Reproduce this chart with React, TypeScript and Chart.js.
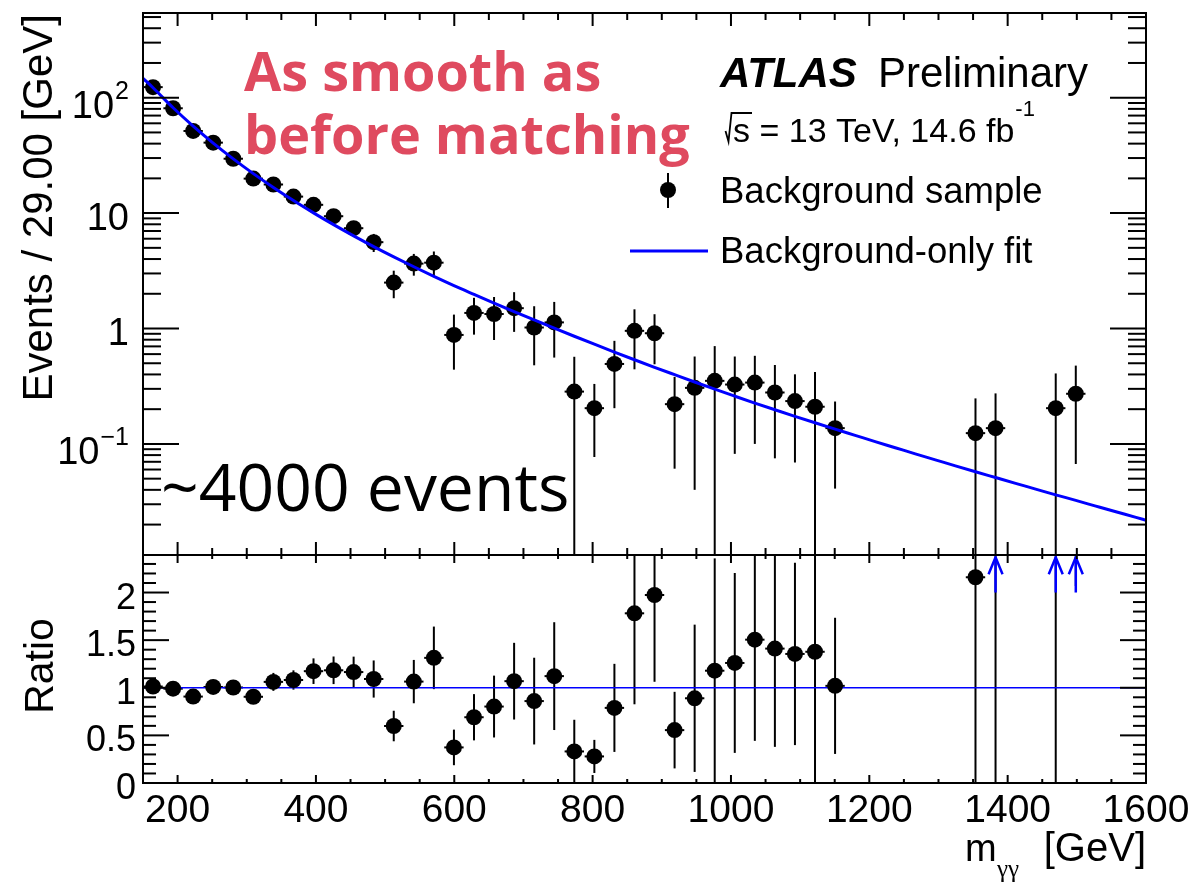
import React, { useEffect, useRef } from "react";
import { Chart, registerables } from "chart.js";

Chart.register(...registerables);

// Diphoton invariant-mass bins (GeV), 29 GeV wide from 150 to 1600
const massBinCenters = [
  164.5, 193.5, 222.5, 251.5, 280.5, 309.5, 338.5, 367.5, 396.5, 425.5,
  454.5, 483.5, 512.5, 541.5, 570.5, 599.5, 628.5, 657.5, 686.5, 715.5,
  744.5, 773.5, 802.5, 831.5, 860.5, 889.5, 918.5, 947.5, 976.5, 1005.5,
  1034.5, 1063.5, 1092.5, 1121.5, 1150.5, 1179.5, 1208.5, 1237.5, 1266.5, 1295.5,
  1324.5, 1353.5, 1382.5, 1411.5, 1440.5, 1469.5, 1498.5, 1527.5, 1556.5, 1585.5,
];

// Background sample: events per bin (null = empty bin)
const eventsPerBin = [
  123.5, 81, 51.5, 40.8, 29.6, 19.9, 17.7, 13.9, 11.8, 9.4,
  7.4, 5.6, 2.5, 3.65, 3.72, 0.88, 1.365, 1.335, 1.5, 1.02,
  1.13, 0.284, 0.204, 0.493, 0.955, 0.91, 0.221, 0.306, 0.352, 0.327,
  0.34, 0.279, 0.235, 0.21, 0.137, null, null, null, null, null,
  null, 0.124, 0.137, null, null, 0.204, 0.272, null, null, null,
];

// Statistical uncertainty on each bin
const eventErrors = [
  4.0, 3.2, 2.6, 2.2, 1.8, 1.45, 1.57, 1.3, 1.35, 1.15,
  1.03, 1.0, 0.67, 0.78, 0.93, 0.44, 0.48, 0.54, 0.565, 0.54,
  0.57, 0.285, 0.127, 0.289, 0.512, 0.42, 0.16, 0.266, 0.352, 0.245,
  0.24, 0.204, 0.166, 0.21, 0.096, null, null, null, null, null,
  null, 0.124, 0.137, null, null, 0.204, 0.205, null, null, null,
];

// Background-only fit evaluated at the bin centres
const fitAtBin = [
  121.9, 81.8, 56.75, 40.46, 29.51, 21.98, 16.67, 12.85, 10.05, 7.943,
  6.353, 5.129, 4.178, 3.428, 2.831, 2.355, 1.977, 1.663, 1.403, 1.186,
  1.007, 0.857, 0.731, 0.625, 0.536, 0.461, 0.398, 0.344, 0.2985, 0.2594,
  0.2259, 0.1977, 0.1734, 0.1524, 0.1343, 0.1186, 0.1047, 0.0927, 0.082, 0.0728,
  0.0646, 0.0574, 0.0511, 0.0455, 0.0406, 0.0362, 0.0324, 0.0289, 0.0258, 0.0231,
];
// Fit at the edges of the mass range
const fitEdgeMass = [150, 1600];
const fitEdgeValue = [147.2, 0.0218];

// Axis ticks and labels
const massTickValues = [200, 400, 600, 800, 1000, 1200, 1400, 1600];
const massTickLabels = ["200", "400", "600", "800", "1000", "1200", "1400", "1600"];
const logTickValues = [0.1, 1, 10, 100];
const logTickBase = ["10", "1", "10", "10"];
const logTickExponent = ["\u22121", "", "", "2"];
const ratioTickValues = [0, 0.5, 1, 1.5, 2];
const ratioTickLabels = ["0", "0.5", "1", "1.5", "2"];

const X_MIN = 150;
const X_MAX = 1600;
const Y_MIN = 0.0109;
const Y_MAX = 542;
const R_MIN = 0;
const R_MAX = 2.394;
const HALF_XERR = 14;
const ARROW_BASE = 2.0;
const ARROW_TIP = 2.37;
const MARKER_R = 8;

const SANS = '"Liberation Sans", Arial, Helvetica, sans-serif';
const OPEN = '"Open Sans", "Noto Sans", sans-serif';
const SERIF = '"Liberation Serif", "DejaVu Serif", serif';
const BLUE = "#0000ff";
const RED = "#df4a5f";

const ratioValues = eventsPerBin.map((v, i) => (v == null ? null : v / fitAtBin[i]));
const ratioErrors = eventErrors.map((e, i) => (e == null ? null : e / fitAtBin[i]));

type TxtOpts = {
  weight?: string;
  style?: string;
  family?: string;
  color?: string;
  align?: CanvasTextAlign;
};

function txt(ctx: CanvasRenderingContext2D, s: string, x: number, y: number, size: number, o: TxtOpts = {}) {
  ctx.save();
  ctx.font = `${o.style || "normal"} ${o.weight || "normal"} ${size}px ${o.family || SANS}`;
  ctx.fillStyle = o.color || "#000";
  ctx.textAlign = o.align || "left";
  ctx.textBaseline = "alphabetic";
  ctx.fillText(s, x, y);
  ctx.restore();
}

function measure(ctx: CanvasRenderingContext2D, s: string, size: number, o: TxtOpts = {}) {
  ctx.save();
  ctx.font = `${o.style || "normal"} ${o.weight || "normal"} ${size}px ${o.family || SANS}`;
  const w = ctx.measureText(s).width;
  ctx.restore();
  return w;
}

function seg(ctx: CanvasRenderingContext2D, x1: number, y1: number, x2: number, y2: number) {
  ctx.beginPath();
  ctx.moveTo(x1, y1);
  ctx.lineTo(x2, y2);
  ctx.stroke();
}

function drawMassTicks(chart: any, majorLen: number, minorLen: number) {
  const { ctx, chartArea: a } = chart;
  const xs = chart.scales.x;
  ctx.save();
  ctx.strokeStyle = "#000";
  ctx.lineWidth = 2;
  for (let m = 200; m <= X_MAX; m += 50) {
    const px = xs.getPixelForValue(m);
    const len = m % 200 === 0 ? majorLen : minorLen;
    seg(ctx, px, a.bottom, px, a.bottom - len);
    seg(ctx, px, a.top, px, a.top + len);
  }
  ctx.restore();
}

function drawFrame(chart: any) {
  const { ctx, chartArea: a } = chart;
  ctx.save();
  ctx.strokeStyle = "#000";
  ctx.lineWidth = 2;
  ctx.strokeRect(a.left, a.top, a.right - a.left, a.bottom - a.top);
  ctx.restore();
}

function drawErrorBars(chart: any, vals: (number | null)[], errs: (number | null)[], lowLimit: number, isLog: boolean) {
  const { ctx, chartArea: a } = chart;
  const xs = chart.scales.x;
  const ys = chart.scales.y;
  ctx.save();
  ctx.beginPath();
  ctx.rect(a.left, a.top, a.right - a.left, a.bottom - a.top);
  ctx.clip();
  ctx.strokeStyle = "#000";
  ctx.lineWidth = 2;
  vals.forEach((v, i) => {
    const e = errs[i];
    if (v == null || e == null) return;
    const m = massBinCenters[i];
    const px = xs.getPixelForValue(m);
    const hi = ys.getPixelForValue(v + e);
    const lowVal = v - e;
    const lo = isLog && lowVal <= lowLimit ? a.bottom + 4 : ys.getPixelForValue(lowVal);
    seg(ctx, px, lo, px, hi);
    const py = ys.getPixelForValue(v);
    seg(ctx, xs.getPixelForValue(m - HALF_XERR), py, xs.getPixelForValue(m + HALF_XERR), py);
  });
  ctx.restore();
}

const topPanelPlugin = {
  id: "topPanel",
  beforeDatasetsDraw(chart: any) {
    drawErrorBars(chart, eventsPerBin, eventErrors, 0, true);
  },
  afterDraw(chart: any) {
    const { ctx, chartArea: a } = chart;
    const ys = chart.scales.y;
    drawFrame(chart);
    drawMassTicks(chart, 13, 7);

    // logarithmic y ticks on both sides
    ctx.save();
    ctx.strokeStyle = "#000";
    ctx.lineWidth = 2;
    for (const dec of [0.01, 0.1, 1, 10, 100]) {
      for (let k = 1; k <= 9; k++) {
        const v = k * dec;
        if (v < Y_MIN || v > Y_MAX) continue;
        const py = ys.getPixelForValue(v);
        const len = k === 1 ? 36 : 18;
        seg(ctx, a.left, py, a.left + len, py);
        seg(ctx, a.right, py, a.right - len, py);
      }
    }
    ctx.restore();

    // y tick labels
    const rightX = 129;
    logTickValues.forEach((v, i) => {
      const py = ys.getPixelForValue(v);
      const exp = logTickExponent[i];
      if (exp) {
        const ew = measure(ctx, exp, 25);
        txt(ctx, exp, rightX, py + 1, 25, { align: "right" });
        txt(ctx, logTickBase[i], rightX - ew - 1, py + 20.5, 38, { align: "right" });
      } else {
        txt(ctx, logTickBase[i], rightX, py + 16.5, 38, { align: "right" });
      }
    });

    // y axis title
    ctx.save();
    ctx.translate(52, 14);
    ctx.rotate(-Math.PI / 2);
    txt(ctx, "Events / 29.00 [GeV]", 0, 0, 42, { align: "right" });
    ctx.restore();

    // experiment label
    txt(ctx, "ATLAS", 720, 87, 42, { weight: "bold", style: "italic" });
    txt(ctx, "Preliminary", 878, 87, 42);

    // centre-of-mass energy and luminosity
    ctx.save();
    ctx.strokeStyle = "#000";
    ctx.lineWidth = 1.8;
    ctx.beginPath();
    ctx.moveTo(725.5, 131);
    ctx.lineTo(728.5, 141.5);
    ctx.lineTo(731.5, 113);
    ctx.lineTo(752, 113);
    ctx.stroke();
    ctx.restore();
    txt(ctx, "s", 733, 141.7, 34);
    let cx = 733 + measure(ctx, "s", 34);
    const rest = " = 13 TeV, 14.6 fb";
    txt(ctx, rest, cx, 141.7, 34);
    cx += measure(ctx, rest, 34);
    txt(ctx, "-1", cx + 1, 116, 22);

    // legend
    ctx.save();
    ctx.fillStyle = "#000";
    ctx.strokeStyle = "#000";
    ctx.lineWidth = 2;
    seg(ctx, 668, 173, 668, 208);
    ctx.beginPath();
    ctx.arc(668, 190, MARKER_R, 0, Math.PI * 2);
    ctx.fill();
    ctx.strokeStyle = BLUE;
    ctx.lineWidth = 3;
    seg(ctx, 630, 251, 708, 251);
    ctx.restore();
    txt(ctx, "Background sample", 720, 203, 36.5);
    txt(ctx, "Background-only fit", 720, 263, 36.5);

    // annotations
    txt(ctx, "As smooth as", 244, 91, 54, { family: OPEN, weight: "bold", color: RED });
    txt(ctx, "before matching", 244, 154, 54, { family: OPEN, weight: "bold", color: RED });
    txt(ctx, "~4000 events", 161, 511, 66, { family: OPEN });
  },
};

const ratioPanelPlugin = {
  id: "ratioPanel",
  beforeDatasetsDraw(chart: any) {
    drawErrorBars(chart, ratioValues, ratioErrors, -Infinity, false);
  },
  afterDatasetsDraw(chart: any) {
    const { ctx } = chart;
    const xs = chart.scales.x;
    const ys = chart.scales.y;
    ctx.save();
    ctx.strokeStyle = BLUE;
    ctx.lineWidth = 2.5;
    ratioValues.forEach((r, i) => {
      if (r == null || r <= R_MAX) return;
      const px = xs.getPixelForValue(massBinCenters[i]);
      const y0 = ys.getPixelForValue(ARROW_BASE);
      const y1 = ys.getPixelForValue(ARROW_TIP);
      seg(ctx, px, y0, px, y1);
      ctx.beginPath();
      ctx.moveTo(px - 7, y1 + 17);
      ctx.lineTo(px, y1);
      ctx.lineTo(px + 7, y1 + 17);
      ctx.stroke();
    });
    ctx.restore();
  },
  afterDraw(chart: any) {
    const { ctx, chartArea: a } = chart;
    const xs = chart.scales.x;
    const ys = chart.scales.y;
    drawFrame(chart);
    drawMassTicks(chart, 8, 4);

    ctx.save();
    ctx.strokeStyle = "#000";
    ctx.lineWidth = 2;
    for (let i = 0; i <= 24; i++) {
      const v = i / 10;
      if (v > R_MAX) continue;
      const py = ys.getPixelForValue(v);
      const len = i % 5 === 0 ? 26 : 13;
      seg(ctx, a.left, py, a.left + len, py);
      seg(ctx, a.right, py, a.right - len, py);
    }
    ctx.restore();

    ratioTickValues.forEach((v, i) => {
      txt(ctx, ratioTickLabels[i], 136, ys.getPixelForValue(v) + 16, 36, { align: "right" });
    });
    massTickValues.forEach((m, i) => {
      txt(ctx, massTickLabels[i], xs.getPixelForValue(m), 822, 39, { align: "center" });
    });

    // x axis title: m_γγ [GeV]
    txt(ctx, "[GeV]", 1146, 861, 40, { align: "right" });
    txt(ctx, "m", 965, 861, 38);
    txt(ctx, "\u03b3\u03b3", 997, 877, 25, { family: SERIF });

    // ratio title
    ctx.save();
    ctx.translate(53, 666);
    ctx.rotate(-Math.PI / 2);
    txt(ctx, "Ratio", 0, 0, 41, { align: "center" });
    ctx.restore();
  },
};

function baseOptions(padding: any, yScale: any) {
  return {
    responsive: false,
    animation: false as const,
    devicePixelRatio: 1,
    events: [] as any[],
    layout: { padding },
    plugins: { legend: { display: false }, tooltip: { enabled: false } },
    scales: {
      x: { type: "linear", min: X_MIN, max: X_MAX, bounds: "data", display: false },
      y: yScale,
    },
  };
}

export default function App() {
  const topRef = useRef<HTMLCanvasElement>(null);
  const ratioRef = useRef<HTMLCanvasElement>(null);

  useEffect(() => {
    const fitCurve = [
      { x: fitEdgeMass[0], y: fitEdgeValue[0] },
      ...massBinCenters.map((m, i) => ({ x: m, y: fitAtBin[i] })),
      { x: fitEdgeMass[1], y: fitEdgeValue[1] },
    ];
    const dataPoints = massBinCenters
      .map((m, i) => ({ x: m, y: eventsPerBin[i] }))
      .filter((p) => p.y != null);
    const ratioPoints = massBinCenters
      .map((m, i) => ({ x: m, y: ratioValues[i] }))
      .filter((p) => p.y != null && (p.y as number) <= R_MAX);

    const top = new Chart(topRef.current as HTMLCanvasElement, {
      type: "line",
      data: {
        datasets: [
          {
            label: "Background-only fit",
            data: fitCurve,
            borderColor: BLUE,
            borderWidth: 3,
            pointRadius: 0,
            cubicInterpolationMode: "monotone",
            fill: false,
          },
          {
            label: "Background sample",
            data: dataPoints as any,
            showLine: false,
            pointRadius: MARKER_R,
            pointBackgroundColor: "#000",
            pointBorderWidth: 0,
            borderColor: "#000",
          },
        ],
      },
      options: baseOptions(
        { left: 143, right: 53, top: 13, bottom: 329 },
        { type: "logarithmic", min: Y_MIN, max: Y_MAX, bounds: "data", display: false }
      ) as any,
      plugins: [topPanelPlugin],
    });

    const ratio = new Chart(ratioRef.current as HTMLCanvasElement, {
      type: "line",
      data: {
        datasets: [
          {
            label: "Ratio",
            data: ratioPoints as any,
            showLine: false,
            pointRadius: MARKER_R,
            pointBackgroundColor: "#000",
            pointBorderWidth: 0,
            borderColor: "#000",
          },
          {
            label: "Unity",
            data: [
              { x: X_MIN, y: 1 },
              { x: X_MAX, y: 1 },
            ],
            borderColor: BLUE,
            borderWidth: 1.6,
            pointRadius: 0,
            fill: false,
          },
        ],
      },
      options: baseOptions(
        { left: 143, right: 53, top: 555, bottom: 101 },
        { type: "linear", min: R_MIN, max: R_MAX, bounds: "data", display: false }
      ) as any,
      plugins: [ratioPanelPlugin],
    });

    return () => {
      top.destroy();
      ratio.destroy();
    };
  }, []);

  const canvasStyle: React.CSSProperties = {
    position: "absolute",
    left: 0,
    top: 0,
    width: 1199,
    height: 884,
  };

  return (
    <div style={{ position: "fixed", left: 0, top: 0, width: 1199, height: 884, background: "#fff" }}>
      <canvas ref={ratioRef} width={1199} height={884} style={canvasStyle} />
      <canvas ref={topRef} width={1199} height={884} style={canvasStyle} />
    </div>
  );
}
